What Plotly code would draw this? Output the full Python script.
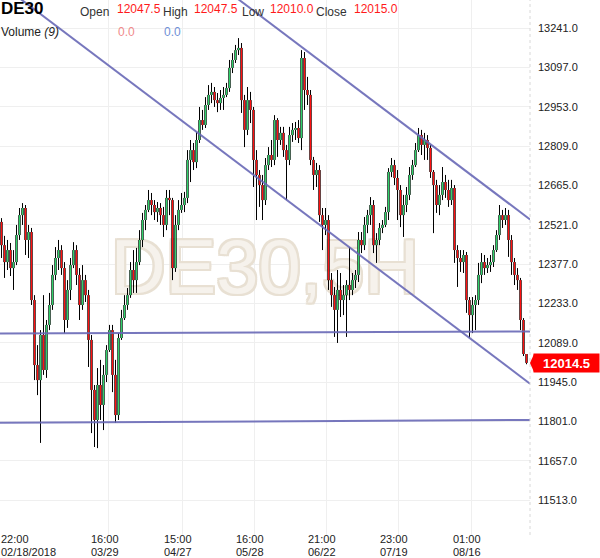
import plotly.graph_objects as go

# ---------------- data ----------------
opens = [12531, 12446, 12384, 12428, 12362, 12384, 12483, 12556, 12582, 12465,
         12494, 12245, 12007, 11952, 12117, 11989, 12154, 12227, 12337, 12399,
         12428, 12362, 12172, 12282, 12373, 12428, 12337, 12227, 12318, 12263,
         12099, 11916, 11806, 11934, 11861, 11971, 12062, 12135, 11971, 11824,
         12106, 12179, 12227, 12263, 12355, 12318, 12384, 12465, 12538, 12575,
         12611, 12593, 12567, 12582, 12556, 12520, 12619, 12611, 12362, 12520,
         12575, 12593, 12619, 12758, 12794, 12750, 12831, 12904, 12886, 12959,
         12996, 13007, 12977, 12966, 12985, 12996, 13021, 13095, 13124, 13160,
         13168, 12977, 12868, 12977, 12941, 12758, 12703, 12666, 12611, 12739,
         12776, 12758, 12904, 12831, 12857, 12794, 12758, 12849, 12868, 12875,
         12838, 13131, 13014, 12996, 12758, 12703, 12721, 12556, 12520, 12538,
         12318, 12263, 12209, 12282, 12245, 12263, 12300, 12282, 12318, 12337,
         12465, 12446, 12520, 12556, 12593, 12446, 12465, 12509, 12520, 12567,
         12714, 12739, 12692, 12648, 12556, 12593, 12630, 12703, 12739, 12794,
         12849, 12813, 12831, 12802, 12714, 12666, 12593, 12630, 12677, 12648,
         12611, 12655, 12428, 12399, 12384, 12410, 12245, 12190, 12227, 12245,
         12337, 12384, 12362, 12373, 12384, 12428, 12483, 12556, 12538, 12556,
         12465, 12384, 12337, 12318, 12172, 12047.5]

highs = [12545, 12480, 12465, 12454, 12428, 12520, 12582, 12600, 12593, 12520,
         12509, 12263, 12080, 12135, 12263, 12172, 12271, 12373, 12439, 12465,
         12446, 12384, 12318, 12399, 12457, 12446, 12362, 12373, 12337, 12282,
         12117, 11934, 11996, 12026, 12007, 12080, 12154, 12154, 12026, 12124,
         12209, 12263, 12289, 12384, 12428, 12436, 12501, 12564, 12593, 12648,
         12637, 12611, 12604, 12600, 12586, 12648, 12648, 12619, 12556, 12611,
         12637, 12641, 12794, 12831, 12820, 12860, 12952, 12941, 12988, 13032,
         13040, 13025, 13003, 13014, 13025, 13040, 13124, 13149, 13179, 13204,
         13186, 12996, 13025, 13007, 12952, 12794, 12721, 12703, 12765, 12805,
         12831, 12922, 12911, 12879, 12879, 12813, 12879, 12893, 12897, 12904,
         13160, 13153, 13062, 13014, 12769, 12747, 12739, 12582, 12582, 12556,
         12344, 12293, 12355, 12344, 12300, 12318, 12439, 12344, 12355, 12494,
         12494, 12549, 12575, 12622, 12611, 12490, 12527, 12538, 12586, 12728,
         12765, 12758, 12721, 12666, 12630, 12659, 12732, 12758, 12820, 12875,
         12868, 12857, 12849, 12813, 12721, 12685, 12666, 12732, 12703, 12685,
         12685, 12666, 12446, 12428, 12428, 12421, 12256, 12256, 12263, 12381,
         12417, 12410, 12399, 12410, 12446, 12501, 12593, 12575, 12582, 12575,
         12483, 12399, 12362, 12326, 12179, 12047.5]

lows = [12399, 12326, 12355, 12333, 12282, 12373, 12465, 12520, 12410, 12399,
        12227, 11952, 11897, 11722, 11971, 11960, 12135, 12209, 12318, 12355,
        12337, 12124, 12143, 12245, 12362, 12300, 12172, 12209, 12238, 12000,
        11758, 11707, 11703, 11806, 11769, 11945, 12055, 11908, 11795, 11806,
        12099, 12172, 12209, 12253, 12271, 12271, 12373, 12439, 12501, 12567,
        12556, 12538, 12531, 12520, 12476, 12501, 12556, 12318, 12348, 12501,
        12564, 12567, 12600, 12677, 12721, 12728, 12820, 12868, 12875, 12941,
        12966, 12952, 12933, 12941, 12941, 12988, 13007, 13076, 13113, 13142,
        12930, 12805, 12849, 12893, 12659, 12538, 12586, 12538, 12593, 12721,
        12732, 12739, 12769, 12813, 12769, 12611, 12739, 12824, 12831, 12820,
        12794, 12941, 12959, 12739, 12648, 12659, 12531, 12428, 12483, 12282,
        12220, 12110, 12088, 12183, 12190, 12110, 12245, 12263, 12289, 12311,
        12417, 12428, 12490, 12520, 12417, 12381, 12446, 12490, 12512, 12538,
        12695, 12666, 12538, 12512, 12476, 12567, 12611, 12685, 12732, 12787,
        12776, 12758, 12758, 12692, 12490, 12564, 12556, 12611, 12619, 12586,
        12593, 12381, 12293, 12348, 12344, 12198, 12106, 12124, 12135, 12227,
        12307, 12337, 12344, 12348, 12366, 12421, 12465, 12509, 12520, 12403,
        12337, 12300, 12282, 12135, 12040, 12010.0]

closes = [12446, 12384, 12428, 12362, 12384, 12483, 12556, 12582, 12465, 12494,
          12245, 12007, 11952, 12117, 11989, 12154, 12227, 12337, 12399, 12428,
          12362, 12172, 12282, 12373, 12428, 12337, 12227, 12318, 12263, 12099,
          11916, 11806, 11934, 11861, 11971, 12062, 12135, 11971, 11824, 12106,
          12179, 12227, 12263, 12355, 12318, 12384, 12465, 12538, 12575, 12611,
          12593, 12567, 12582, 12556, 12520, 12619, 12611, 12362, 12520, 12575,
          12593, 12619, 12758, 12794, 12750, 12831, 12904, 12886, 12959, 12996,
          13007, 12977, 12966, 12985, 12996, 13021, 13095, 13124, 13160, 13168,
          12977, 12868, 12977, 12941, 12758, 12703, 12666, 12611, 12739, 12776,
          12758, 12904, 12831, 12857, 12794, 12758, 12849, 12868, 12875, 12838,
          13131, 13014, 12996, 12758, 12703, 12721, 12556, 12520, 12538, 12318,
          12263, 12209, 12282, 12245, 12263, 12300, 12282, 12318, 12337, 12465,
          12446, 12520, 12556, 12593, 12446, 12465, 12509, 12520, 12567, 12714,
          12739, 12692, 12648, 12556, 12593, 12630, 12703, 12739, 12794, 12849,
          12813, 12831, 12802, 12714, 12666, 12593, 12630, 12677, 12648, 12611,
          12655, 12428, 12399, 12384, 12410, 12245, 12190, 12227, 12245, 12337,
          12384, 12362, 12373, 12384, 12428, 12483, 12556, 12538, 12556, 12465,
          12384, 12337, 12318, 12172, 12047.5, 12015.0]

last_price = 12014.5
volume_values = ["0.0", "0.0"]

# x-axis labels (candle index of each gridline) and y-axis tick values
x_tick_index = [35.83, 60.17, 84.17, 108.17, 132.17, 156.5]
x_tick_times = ["16:00", "15:00", "16:00", "21:00", "23:00", "01:00"]
x_tick_dates = ["03/29", "04/27", "05/28", "06/22", "07/19", "08/16"]
first_x_time = "22:00"
first_x_date = "02/18/2018"
y_tick_values = [11513.0, 11657.0, 11801.0, 11945.0, 12089.0, 12233.0, 12377.0,
                 12521.0, 12665.0, 12809.0, 12953.0, 13097.0, 13241.0]

# drawn trend lines (candle index, price)
channel_upper = [(76.0, 13370.6), (176.17, 12540.0)]
channel_lower = [(-0.5, 13404.0), (176.17, 11939.0)]
support_upper = [(-0.5, 12123.0), (176.17, 12130.0)]
support_lower = [(-0.5, 11796.0), (176.17, 11806.0)]

# ---------------- figure ----------------
W, H = 600, 558
PLOT_R = 530          # right edge of plot area (px)
PLOT_B = 535          # bottom edge of plot area (px)
FONT = "Liberation Sans, Arial, sans-serif"
TXT = "#222222"

n = len(closes)
idx = list(range(n))

fig = go.Figure()

# watermark (first trace -> lowest layer)
fig.add_trace(go.Scatter(
    x=[87.8], y=[12340], mode="text", text=["DE30,5H"],
    textfont=dict(size=76, color="#f6f2ec", family=FONT,
                  shadow="2px 0 0 #e8e0d3, -2px 0 0 #e8e0d3, 0 2px 0 #e8e0d3, 0 -2px 0 #e8e0d3,"
                         " 2px 2px 0 #e8e0d3, -2px -2px 0 #e8e0d3, 2px -2px 0 #e8e0d3, -2px 2px 0 #e8e0d3"),
    hoverinfo="skip", showlegend=False))

# wicks
wx, wy = [], []
for i in idx:
    wx += [i, i, None]
    wy += [lows[i], highs[i], None]
fig.add_trace(go.Scatter(x=wx, y=wy, mode="lines",
                         line=dict(color="#000000", width=1),
                         hoverinfo="skip", showlegend=False))

# bodies: black outline underneath, coloured core on top
bx, by, ux, uy, dx, dy = [], [], [], [], [], []
for i in idx:
    bx += [i, i, None]; by += [opens[i], closes[i], None]
    if closes[i] >= opens[i]:
        ux += [i, i, None]; uy += [opens[i], closes[i], None]
    else:
        dx += [i, i, None]; dy += [opens[i], closes[i], None]
fig.add_trace(go.Scatter(x=bx, y=by, mode="lines",
                         line=dict(color="#000000", width=2.4),
                         hoverinfo="skip", showlegend=False))
fig.add_trace(go.Scatter(x=ux, y=uy, mode="lines",
                         line=dict(color="#2fd16a", width=1.3),
                         hoverinfo="skip", showlegend=False))
fig.add_trace(go.Scatter(x=dx, y=dy, mode="lines",
                         line=dict(color="#ff1010", width=1.3),
                         hoverinfo="skip", showlegend=False))

line_style = dict(color="rgba(104,104,182,0.9)", width=2)
shapes = []
for seg in (channel_upper, channel_lower, support_upper, support_lower):
    shapes.append(dict(type="line", xref="x", yref="y",
                       x0=seg[0][0], y0=seg[0][1], x1=seg[1][0], y1=seg[1][1],
                       line=line_style))
# dotted right border of plot
shapes.append(dict(type="line", xref="paper", yref="paper",
                   x0=PLOT_R / W, x1=PLOT_R / W, y0=0, y1=1,
                   line=dict(color="#d8d8d8", width=1, dash="dot")))
# notch of the price label
shapes.append(dict(type="path", xref="paper", yref="y",
                   path=f"M {PLOT_R / W} {last_price} L {(PLOT_R + 4) / W} {last_price + 33} "
                        f"L {(PLOT_R + 4) / W} {last_price - 33} Z",
                   fillcolor="#ff0000", line=dict(width=0)))

ann = []


def px_ann(text, x, y, size=12, color="#333333", bold=False):
    ann.append(dict(text=f"<b>{text}</b>" if bold else text,
                    xref="paper", yref="paper", x=x / W, y=1 - y / PLOT_B,
                    xanchor="left", yanchor="middle", showarrow=False,
                    font=dict(family=FONT, size=size, color=color)))


px_ann("DE30", -1, 9, size=17, color="#000000", bold=True)
px_ann("Open", 78, 12)
px_ann(f"{opens[-1]:.1f}", 115, 9, color="#ff1a1a")
px_ann("High", 161, 12)
px_ann(f"{highs[-1]:.1f}", 192, 9, color="#ff1a1a")
px_ann("Low", 240, 12)
px_ann(f"{lows[-1]:.1f}", 268, 9, color="#ff1a1a")
px_ann("Close", 314, 12)
px_ann(f"{closes[-1]:.1f}", 352, 9, color="#ff1a1a")
px_ann("Volume <i>(9)</i>", -1, 32, color=TXT)
px_ann(volume_values[0], 116, 32, color="#f08a8a")
px_ann(volume_values[1], 162, 32, color="#6f8fd6")

# x-axis labels: two tightly spaced lines under every gridline
LINE1, LINE2 = 539, 551.5   # centre of each label line (px)
for xi, t, d in zip(x_tick_index, x_tick_times, x_tick_dates):
    for txt, yy in ((t, LINE1), (d, LINE2)):
        ann.append(dict(text=txt, xref="x", yref="paper", x=xi, y=0,
                        xanchor="center", yanchor="middle", xshift=-4,
                        yshift=-(yy - PLOT_B), showarrow=False, borderpad=0,
                        font=dict(family=FONT, size=11, color=TXT)))
for txt, yy in ((first_x_time, LINE1), (first_x_date, LINE2)):
    ann.append(dict(text=txt, xref="paper", yref="paper", x=0, y=0,
                    xanchor="left", yanchor="middle", yshift=-(yy - PLOT_B),
                    showarrow=False, borderpad=0,
                    font=dict(family=FONT, size=11, color=TXT)))

# last price label
ann.append(dict(text=f"<b>{last_price:.1f}</b>", xref="paper", yref="y",
                x=(PLOT_R + 3) / W, y=last_price, xanchor="left", yanchor="middle",
                showarrow=False, bgcolor="#ff0000", width=63, height=16, borderpad=1,
                font=dict(family=FONT, size=13, color="#ffffff")))

y_top = 13343.5
y_bottom = 13343.5 - 3.661 * PLOT_B

fig.update_layout(
    width=W, height=H,
    margin=dict(l=0, r=0, t=0, b=H - PLOT_B),
    paper_bgcolor="#ffffff", plot_bgcolor="#ffffff",
    showlegend=False,
    xaxis=dict(domain=[0, PLOT_R / W], range=[-0.5, (PLOT_R - 1.5) / 3],
               tickvals=x_tick_index, showticklabels=False, automargin=False,
               showgrid=True, gridcolor="#efefef", gridwidth=1,
               zeroline=False, showline=False, ticks=""),
    yaxis=dict(side="right", range=[y_bottom, y_top], automargin=False,
               tickvals=y_tick_values, ticktext=[f"{v:.1f}" for v in y_tick_values],
               showgrid=True, gridcolor="#efefef", gridwidth=1,
               zeroline=False, showline=False, ticks="", ticklabelstandoff=7,
               tickfont=dict(family=FONT, size=11, color=TXT)),
    shapes=shapes, annotations=ann,
)

fig.write_html("out.html", config={"displayModeBar": False},
               post_script="document.body.style.margin='0px';")
